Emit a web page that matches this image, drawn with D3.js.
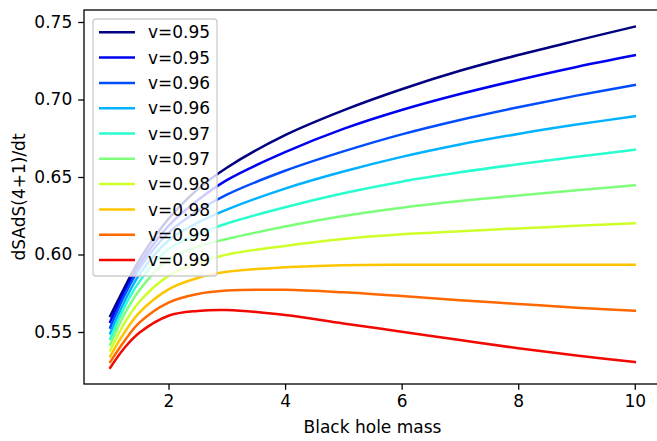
<!DOCTYPE html>
<html>
<head>
<meta charset="utf-8">
<script src="https://cdn.jsdelivr.net/npm/d3@7"></script>
<style>
  body { margin: 0; background: #fff; }
  svg { display: block; font-family: "DejaVu Sans", sans-serif; }
</style>
</head>
<body>
<svg id="chart" width="657" height="441"></svg>
<script>
/** Chart data **/
var masses = [1, 1.25, 1.5, 2, 2.5, 3, 4, 5, 6, 7, 8, 9, 10];
var labels = ["v=0.95", "v=0.95", "v=0.96", "v=0.96", "v=0.97", "v=0.97", "v=0.98", "v=0.98", "v=0.99", "v=0.99"];
var colors = ["#000080", "#0000f1", "#004dff", "#00b1ff", "#29ffce", "#7dff7a", "#ceff29", "#ffc400", "#ff6800", "#f10800"];

var rate_0 = [0.5603, 0.579, 0.5965, 0.623, 0.642, 0.656, 0.677, 0.693, 0.7066, 0.7185, 0.7287, 0.738, 0.747];
var rate_1 = [0.5566, 0.5765, 0.5935, 0.6185, 0.635, 0.648, 0.666, 0.681, 0.6932, 0.7035, 0.7126, 0.721, 0.7285];
var rate_2 = [0.5529, 0.574, 0.591, 0.614, 0.628, 0.6386, 0.654, 0.6665, 0.6775, 0.6868, 0.695, 0.7025, 0.7094];
var rate_3 = [0.5492, 0.570, 0.587, 0.609, 0.6205, 0.629, 0.6425, 0.6535, 0.663, 0.671, 0.6778, 0.6838, 0.6892];
var rate_4 = [0.5455, 0.5665, 0.5825, 0.6035, 0.613, 0.620, 0.6305, 0.6395, 0.647, 0.653, 0.6582, 0.663, 0.6676];
var rate_5 = [0.5418, 0.562, 0.577, 0.5968, 0.605, 0.610, 0.618, 0.6248, 0.6302, 0.6345, 0.638, 0.6414, 0.6446];
var rate_6 = [0.5381, 0.556, 0.5695, 0.5862, 0.5945, 0.5999, 0.6055, 0.610, 0.613, 0.615, 0.6168, 0.6185, 0.6201];
var rate_7 = [0.5344, 0.550, 0.5625, 0.5775, 0.5848, 0.5888, 0.5918, 0.5931, 0.5934, 0.5934, 0.5934, 0.5934, 0.5934];
var rate_8 = [0.5307, 0.5445, 0.556, 0.569, 0.5745, 0.5767, 0.5772, 0.5756, 0.5732, 0.5705, 0.5681, 0.5657, 0.5637];
var rate_9 = [0.527, 0.540, 0.5495, 0.5605, 0.5636, 0.5642, 0.561, 0.5555, 0.5502, 0.5448, 0.5395, 0.5348, 0.5306];

var xTicks = [2, 4, 6, 8, 10];
var yTicks = [0.55, 0.60, 0.65, 0.70, 0.75];

/** Build series table **/
var allRates = [rate_0, rate_1, rate_2, rate_3, rate_4, rate_5, rate_6, rate_7, rate_8, rate_9];
var series = allRates.map(function(vals, i){
    return {label: labels[i], color: colors[i], values: vals.map(function(v, j){ return {x: masses[j], y: v}; })};
});

var svg = d3.select("#chart");
var plotLeft = 84, plotRight = 661, plotTop = 10, plotBottom = 384;
var fontSize = 17;

/** Scales (matplotlib style 5% margins) **/
var xScale = d3.scaleLinear().domain([0.55, 10.45]).range([plotLeft, plotRight]);
var yScale = d3.scaleLinear().domain([0.51645, 0.75774]).range([plotBottom, plotTop]);

/** Draw the lines **/
var valueLine = d3.line()
    .curve(d3.curveCatmullRom.alpha(0.5))
    .x(function(d){ return xScale(d.x); })
    .y(function(d){ return yScale(d.y); });

svg.append("g").selectAll("path")
    .data(series)
    .enter().append("path")
    .attr("fill", "none")
    .attr("stroke", function(d){ return d.color; })
    .attr("stroke-width", 2.5)
    .attr("stroke-linecap", "square")
    .attr("d", function(d){ return valueLine(d.values); });

/** Axes **/
var xAxis = d3.axisBottom(xScale).tickValues(xTicks).tickSize(5.8).tickPadding(5).tickFormat(d3.format("d"));
var yAxis = d3.axisLeft(yScale).tickValues(yTicks).tickSize(5.8).tickPadding(6).tickFormat(d3.format(".2f"));

var gx = svg.append("g").attr("transform", "translate(0," + plotBottom + ")").call(xAxis);
var gy = svg.append("g").attr("transform", "translate(" + plotLeft + ",0)").call(yAxis);
[gx, gy].forEach(function(g){
    g.select(".domain").remove();
    g.selectAll(".tick line").attr("stroke", "#000").attr("stroke-width", 1.3);
    g.selectAll(".tick text").attr("fill", "#000").style("font-size", fontSize + "px").style("font-family", "DejaVu Sans");
});

/** Spines **/
svg.append("rect")
    .attr("x", plotLeft).attr("y", plotTop)
    .attr("width", plotRight - plotLeft).attr("height", plotBottom - plotTop)
    .attr("fill", "none").attr("stroke", "#000").attr("stroke-width", 1.3);

/** Axis labels **/
svg.append("text")
    .text("Black hole mass")
    .attr("x", (plotLeft + plotRight) / 2)
    .attr("y", 433)
    .style("font-size", fontSize + "px")
    .style("text-anchor", "middle");
svg.append("text")
    .text("dSAdS(4+1)/dt")
    .attr("transform", "translate(25," + (plotTop + plotBottom) / 2 + ") rotate(-90)")
    .style("font-size", fontSize + "px")
    .style("text-anchor", "middle");

/** Legend **/
var legend = svg.append("g");
legend.append("rect")
    .attr("x", 93).attr("y", 19)
    .attr("width", 124).attr("height", 257)
    .attr("rx", 3).attr("ry", 3)
    .attr("fill", "#fff").attr("fill-opacity", 0.8)
    .attr("stroke", "#cccccc").attr("stroke-width", 1.3);

var rowScale = d3.scaleLinear().domain([0, 1]).range([32.3, 57.6]);
var rows = legend.selectAll(".row")
    .data(series)
    .enter().append("g")
    .attr("class", "row")
    .attr("transform", function(d, i){ return "translate(0," + rowScale(i) + ")"; });
rows.append("line")
    .attr("x1", 99).attr("x2", 135)
    .attr("y1", 0).attr("y2", 0)
    .attr("stroke", function(d){ return d.color; })
    .attr("stroke-width", 2.5);
rows.append("text")
    .text(function(d){ return d.label; })
    .attr("x", 148)
    .attr("y", 0)
    .attr("dy", "0.36em")
    .style("font-size", fontSize + "px");
</script>
</body>
</html>
